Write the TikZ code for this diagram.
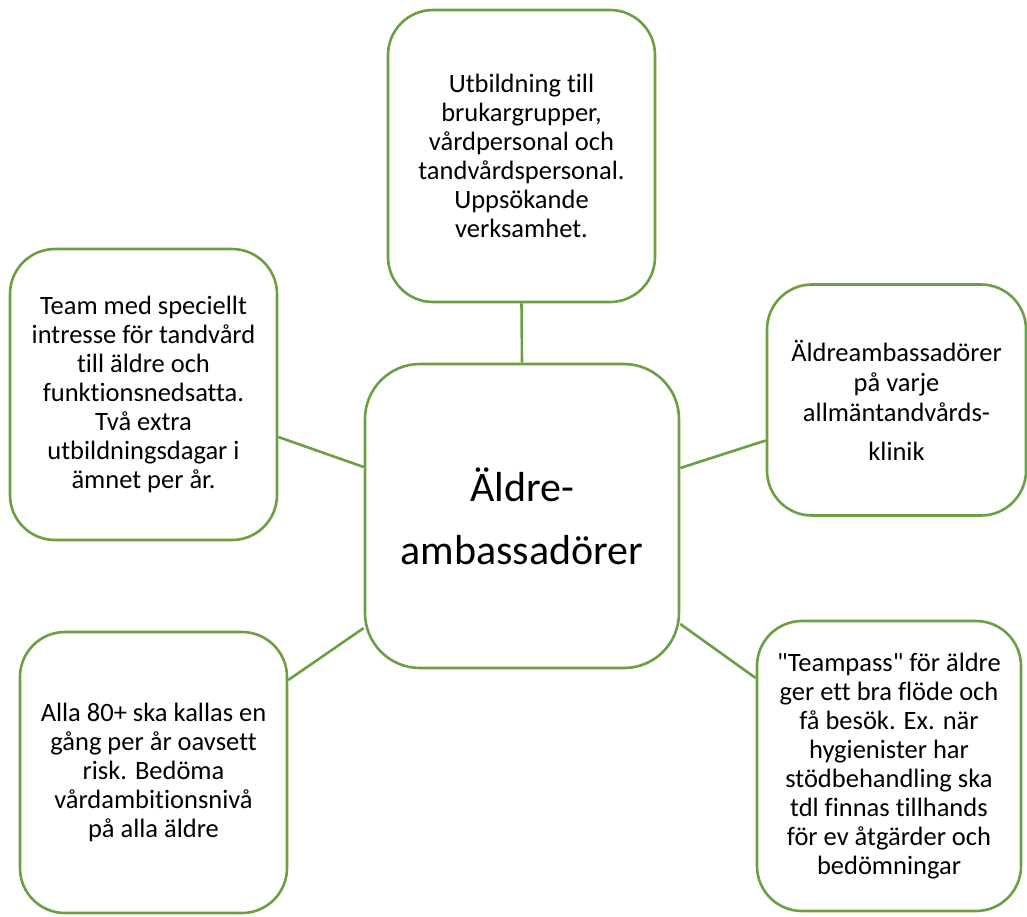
\documentclass[tikz,border=0pt]{standalone}
\usepackage{fontspec}
\setmainfont{Carlito}[Ligatures={NoCommon,TeXOff}]
\usepackage{xcolor}
\usetikzlibrary{positioning}
\definecolor{leaf}{RGB}{106,160,66}

\begin{document}
\begin{tikzpicture}[
  x=1pt, y=-1pt,
  box/.style={draw=leaf, line width=2.6pt, rounded corners=45pt, align=center,
              inner sep=0pt, font=\fontsize{26.5}{29}\selectfont},
  hub/.style={box, rounded corners=55pt, font=\fontsize{42}{63}\selectfont},
  link/.style={draw=leaf, line width=2.6pt}
]
  \useasboundingbox (0,0) rectangle (1027,916);

  % centre
  \node[hub, minimum width=314pt, minimum height=304pt] (ctr) at (522,516)
    {Äldre-\\ambassadörer};

  % surrounding boxes
  \node[box, minimum width=267pt, minimum height=292pt] (utb) at (521.5,156)
    {Utbildning till\\brukargrupper,\\vårdpersonal och\\tandvårdspersonal.\\Uppsökande\\verksamhet.};
  \node[box, minimum width=267pt, minimum height=291pt] (team) at (143.5,394.5)
    {Team med speciellt\\intresse för tandvård\\till äldre och\\funktionsnedsatta.\\Två extra\\utbildningsdagar i\\ämnet per år.};
  \node[box, minimum width=259pt, minimum height=231pt] (klin) at (896.5,400)
    {Äldreambassadörer\\[1pt]på varje\\[1pt]allmäntandvårds-\\[10pt]klinik};
  \node[box, minimum width=267pt, minimum height=281pt] (alla) at (153.5,772.5)
    {Alla 80+ ska kallas en\\gång per år oavsett\\risk. Bedöma\\vårdambitionsnivå\\på alla äldre};
  \node[box, minimum width=264pt, minimum height=290pt] (tpass) at (889,766)
    {"Teampass" för äldre\\ger ett bra flöde och\\få besök. Ex. när\\hygienister har\\stödbehandling ska\\tdl finnas tillhands\\för ev åtgärder och\\bedömningar};

  % connectors
  \draw[link] (utb.south) -- (ctr.north);
  \draw[link] ([yshift=-42.5pt]team.east) -- ([yshift=49pt]ctr.west);
  \draw[link] ([yshift=48pt]ctr.east) -- ([yshift=-40.5pt]klin.west);
  \draw[link] ([yshift=92.5pt]alla.east) -- ([yshift=-112pt]ctr.west);
  \draw[link] ([yshift=-108pt]ctr.east) -- ([yshift=88pt]tpass.west);
\end{tikzpicture}
\end{document}
